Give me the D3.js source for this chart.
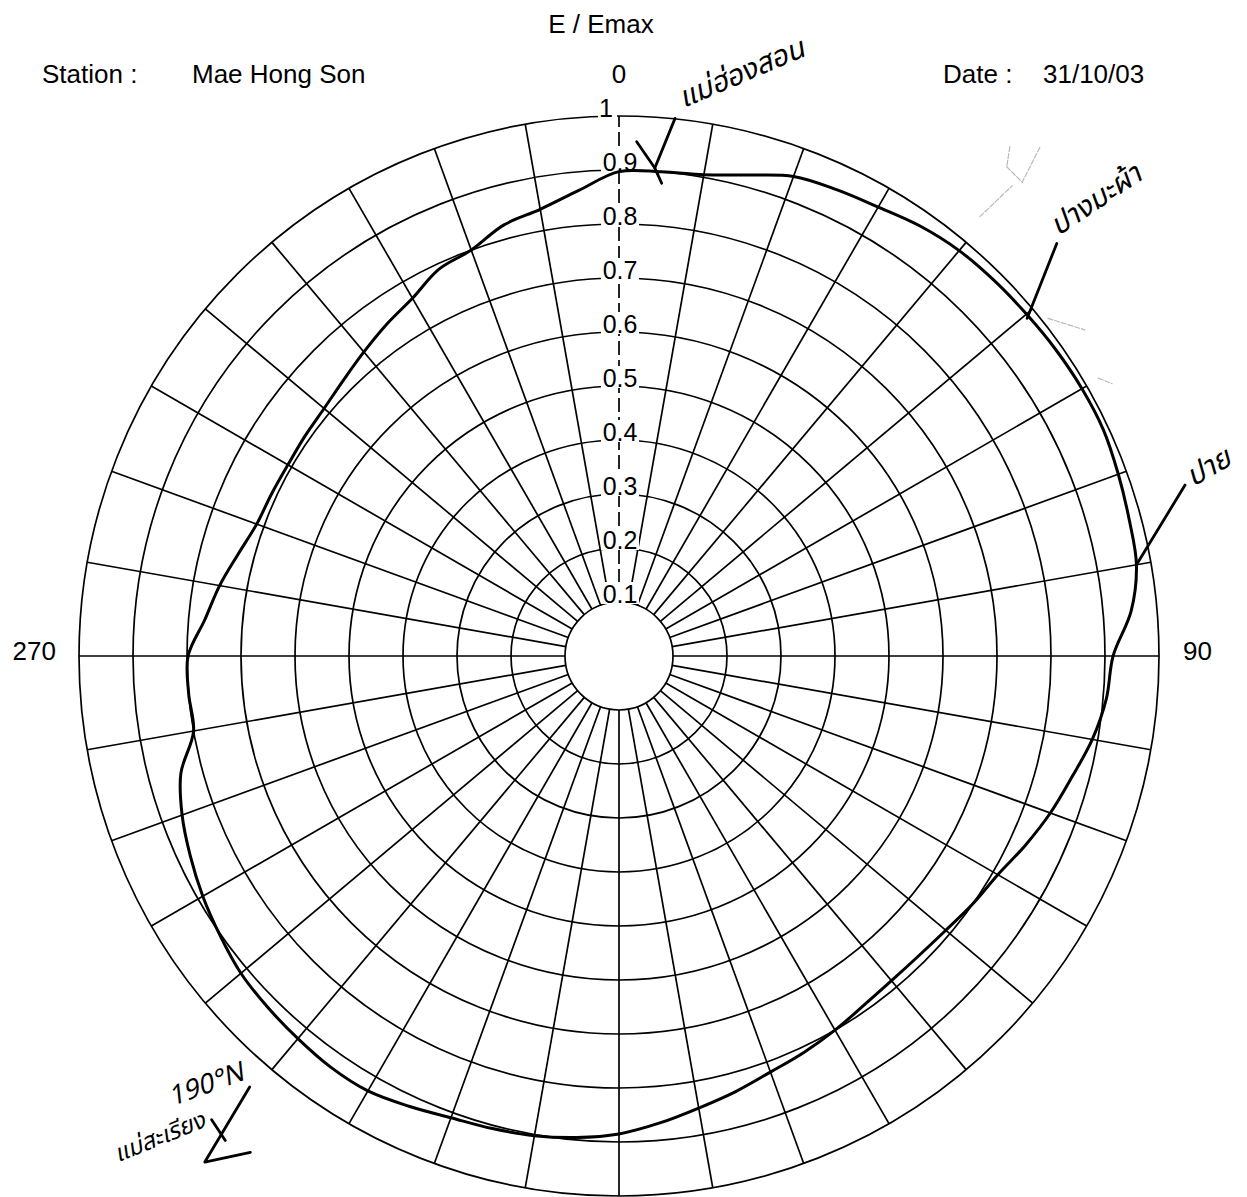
<!DOCTYPE html>
<html>
<head>
<meta charset="utf-8">
<script src="https://cdn.jsdelivr.net/npm/d3@7"></script>
<style>
  body { margin: 0; background: #fff; }
  svg text { font-family: "Liberation Sans", Arial, sans-serif; fill: #000; }
  .hand { font-family: "Noto Sans Thai", "Loma", "Garuda", "Waree", "Tlwg Typo", "DejaVu Sans", sans-serif; font-style: italic; }
</style>
</head>
<body>
<svg id="chart" width="1247" height="1197"></svg>
<script>
// Measured relative field strength E/Emax around the station, azimuth in degrees
const azimuths = [0, 5, 10, 15, 20, 25, 30, 35, 40, 45, 50, 55, 60, 65, 70, 75, 80, 85,
  90, 95, 100, 105, 110, 115, 120, 125, 130, 135, 140, 145, 150, 155, 160, 165, 170, 175,
  180, 185, 190, 195, 200, 205, 210, 215, 220, 225, 230, 235, 240, 245, 250, 255, 260, 265,
  270, 275, 280, 285, 290, 295, 300, 305, 310, 315, 320, 325, 330, 335, 340, 345, 350, 355];
const fieldRatio = [0.897, 0.900, 0.905, 0.922, 0.945, 0.953, 0.960, 0.972, 0.980, 0.983, 0.985, 0.988, 0.990, 0.990, 0.984, 0.978, 0.973, 0.952,
  0.915, 0.906, 0.890, 0.868, 0.850, 0.830, 0.810, 0.800, 0.790, 0.785, 0.785, 0.790, 0.800, 0.810, 0.820, 0.835, 0.850, 0.868,
  0.885, 0.895, 0.902, 0.906, 0.910, 0.920, 0.930, 0.930, 0.925, 0.920, 0.914, 0.902, 0.890, 0.876, 0.861, 0.840, 0.800, 0.800,
  0.798, 0.770, 0.751, 0.730, 0.714, 0.710, 0.708, 0.710, 0.713, 0.722, 0.735, 0.750, 0.765, 0.790, 0.800, 0.826, 0.840, 0.865];

// Polar grid
const ringLevels = [0.1, 0.2, 0.3, 0.4, 0.5, 0.6, 0.7, 0.8, 0.9, 1.0];
const ringLabels = ["0.1", "0.2", "0.3", "0.4", "0.5", "0.6", "0.7", "0.8", "0.9", "1"];
const spokeAngles = [0, 10, 20, 30, 40, 50, 60, 70, 80, 90, 100, 110, 120, 130, 140, 150, 160, 170,
  180, 190, 200, 210, 220, 230, 240, 250, 260, 270, 280, 290, 300, 310, 320, 330, 340, 350];

// Hand-written notes added on the printed sheet (azimuth, E/Emax)
const noteTexts = [
  { text: "แม่ฮ่องสอน", az: 6.7, v: 1.022, rot: -23, size: 29 },
  { text: "ปางมะผ้า", az: 46.3, v: 1.125, rot: -34, size: 29 },
  { text: "ปาย", az: 73.6, v: 1.108, rot: -30, size: 29 },
  { text: "190°N", az: 224.8, v: 1.175, rot: -20, size: 27 },
  { text: "แม่สะเรียง", az: 224.7, v: 1.319, rot: -22, size: 24 }
];
const noteStrokes = [
  [[1.97, 0.953], [4.2, 0.906]],
  [[5.95, 1.001], [4.2, 0.906], [5.16, 0.879]],
  [[46.7, 1.114], [50.4, 0.981]],
  [[73.2, 1.095], [79.8, 0.976]],
  [[220.6, 1.051], [219.3, 1.211], [216.6, 1.145]],
  [[221.3, 1.143], [219.1, 1.156]]
];
// faint pencil marks
const pencilStrokes = [
  [[39.4, 1.053], [39.9, 1.135]],
  [[38.4, 1.156], [40.4, 1.152], [39.6, 1.223]],
  [[37.5, 1.189], [38.4, 1.156]],
  [[51.8, 1.011], [55.0, 1.053]],
  [[59.9, 1.026], [61.1, 1.043]]
];

const width = 1247, height = 1197;
const cx = 619, cy = 656, R = 540;

const svg = d3.select("#chart");
const g = svg.append("g").attr("transform", `translate(${cx},${cy})`);

const r = d3.scaleLinear().domain([0, 1]).range([0, R]);
const theta = d3.scaleLinear().domain([0, 360]).range([0, 2 * Math.PI]);
const pos = (az, v) => [r(v) * Math.sin(theta(az)), -r(v) * Math.cos(theta(az))];

// rings
g.append("g").selectAll("circle").data(ringLevels).join("circle")
  .attr("r", d => r(d))
  .attr("fill", "none")
  .attr("stroke", "#000")
  .attr("stroke-width", 1.7);

// spokes (the 0° spoke is the dashed scale axis)
g.append("g").selectAll("line").data(spokeAngles.filter(a => a !== 0)).join("line")
  .attr("x1", a => pos(a, 0.1)[0]).attr("y1", a => pos(a, 0.1)[1])
  .attr("x2", a => pos(a, 1)[0]).attr("y2", a => pos(a, 1)[1])
  .attr("stroke", "#000")
  .attr("stroke-width", 1.7);

g.append("line")
  .attr("x1", 0).attr("y1", -r(0.1))
  .attr("x2", 0).attr("y2", -r(1))
  .attr("stroke", "#000")
  .attr("stroke-width", 1.7)
  .attr("stroke-dasharray", "14,5");

// scale labels on the 0° axis, with a paper-white box behind each one
const labels = g.append("g").selectAll("g").data(ringLevels).join("g")
  .attr("transform", d => `translate(0,${-r(d)})`);
labels.append("rect")
  .attr("x", (d, i) => i === ringLevels.length - 1 ? -21 : -18)
  .attr("y", -20)
  .attr("width", (d, i) => i === ringLevels.length - 1 ? 19 : 38)
  .attr("height", (d, i) => i === ringLevels.length - 1 ? 23 : 22)
  .attr("fill", "#fff");
labels.append("text")
  .attr("x", (d, i) => i === ringLevels.length - 1 ? -6 : 1)
  .attr("y", 1)
  .attr("text-anchor", (d, i) => i === ringLevels.length - 1 ? "end" : "middle")
  .attr("font-size", 25)
  .text((d, i) => ringLabels[i]);

// field pattern
const pattern = azimuths.map((a, i) => ({ az: a, v: fieldRatio[i] }));
const radial = d3.lineRadial()
  .angle(d => theta(d.az))
  .radius(d => r(d.v))
  .curve(d3.curveCatmullRomClosed.alpha(0.5));
g.append("path")
  .datum(pattern)
  .attr("d", radial)
  .attr("fill", "none")
  .attr("stroke", "#000")
  .attr("stroke-width", 3)
  .attr("stroke-linejoin", "round");

// heading texts
svg.append("text").attr("x", 601).attr("y", 33).attr("text-anchor", "middle").attr("font-size", 26).text("E / Emax");
svg.append("text").attr("x", cx).attr("y", 83).attr("text-anchor", "middle").attr("font-size", 26).text("0");
svg.append("text").attr("x", 42).attr("y", 83).attr("font-size", 26).text("Station :");
svg.append("text").attr("x", 192).attr("y", 83).attr("font-size", 26).text("Mae Hong Son");
svg.append("text").attr("x", 943).attr("y", 83).attr("font-size", 26).text("Date :");
svg.append("text").attr("x", 1043).attr("y", 83).attr("font-size", 26).text("31/10/03");
svg.append("text").attr("x", cx - R - 23).attr("y", cy + 4).attr("text-anchor", "end").attr("font-size", 26).text("270");
svg.append("text").attr("x", cx + R + 24).attr("y", cy + 4).attr("font-size", 26).text("90");

// hand-written notes
const line = d3.line();
g.append("g").selectAll("path").data(pencilStrokes).join("path")
  .attr("d", s => line(s.map(p => pos(p[0], p[1]))))
  .attr("fill", "none")
  .attr("stroke", "#b8b8b8")
  .attr("stroke-width", 1.2)
  .attr("stroke-dasharray", "5,2")
  .attr("stroke-linecap", "round");
g.append("g").selectAll("path").data(noteStrokes).join("path")
  .attr("d", s => line(s.map(p => pos(p[0], p[1]))))
  .attr("fill", "none")
  .attr("stroke", "#000")
  .attr("stroke-width", 2.8)
  .attr("stroke-linecap", "round")
  .attr("stroke-linejoin", "round");
g.append("g").selectAll("text").data(noteTexts).join("text")
  .attr("class", "hand")
  .attr("transform", d => `translate(${pos(d.az, d.v)[0]},${pos(d.az, d.v)[1]}) rotate(${d.rot})`)
  .attr("font-size", d => d.size)
  .text(d => d.text);
</script>
</body>
</html>
